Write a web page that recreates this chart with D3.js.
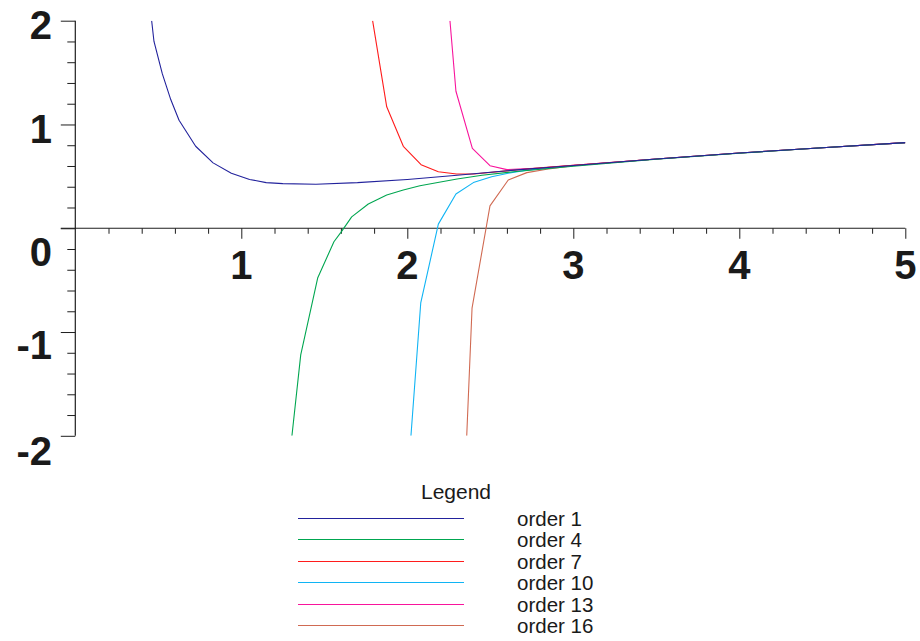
<!DOCTYPE html>
<html>
<head>
<meta charset="utf-8">
<script src="https://cdn.jsdelivr.net/npm/d3@7"></script>
<style>
  html, body { margin: 0; padding: 0; background: #fff; }
  svg { display: block; font-family: "Liberation Sans", Arial, Helvetica, sans-serif; }
</style>
</head>
<body>
<svg id="chart" width="920" height="641"></svg>
<script>
// Truncated series approximations, one curve per order
const seriesNames = ["order 1", "order 4", "order 7", "order 10", "order 13", "order 16"];
const seriesColors = ["#22229c", "#00a650", "#ff1c1c", "#10b4f4", "#f8149c", "#d06a52"];

const order1X = [0.46, 0.474, 0.524, 0.575, 0.625, 0.725, 0.83, 0.94, 1.05, 1.15, 1.25, 1.45, 1.70, 2.00, 2.30, 2.64, 3.00, 3.50, 4.00, 4.50, 5.00];
const order1Y = [2.00, 1.80, 1.49, 1.24, 1.04, 0.79, 0.63, 0.53, 0.47, 0.44, 0.43, 0.424, 0.44, 0.47, 0.51, 0.56, 0.605, 0.668, 0.725, 0.776, 0.825];

const order4X = [1.305, 1.358, 1.46, 1.558, 1.60, 1.665, 1.765, 1.876, 1.976, 2.076, 2.20, 2.30, 2.45, 2.64, 3.00, 3.50, 4.00, 4.50, 5.00];
const order4Y = [-2.00, -1.22, -0.48, -0.13, -0.04, 0.11, 0.234, 0.321, 0.369, 0.41, 0.445, 0.475, 0.51, 0.545, 0.598, 0.665, 0.723, 0.775, 0.824];

const order7X = [1.791, 1.876, 1.976, 2.083, 2.187, 2.297, 2.40, 2.60, 2.80, 3.00, 3.50, 4.00, 4.50, 5.00];
const order7Y = [2.00, 1.17, 0.79, 0.613, 0.545, 0.523, 0.523, 0.553, 0.582, 0.607, 0.668, 0.725, 0.776, 0.825];

const order10X = [2.022, 2.081, 2.187, 2.293, 2.398, 2.508, 2.608, 2.72, 2.85, 3.00, 3.50, 4.00, 4.50, 5.00];
const order10Y = [-2.00, -0.72, 0.04, 0.33, 0.44, 0.497, 0.53, 0.56, 0.582, 0.604, 0.668, 0.725, 0.776, 0.825];

const order13X = [2.257, 2.293, 2.392, 2.498, 2.60, 2.80, 3.00, 3.50, 4.00, 4.50, 5.00];
const order13Y = [2.00, 1.32, 0.77, 0.603, 0.565, 0.58, 0.606, 0.668, 0.725, 0.776, 0.825];

const order16X = [2.358, 2.39, 2.498, 2.608, 2.72, 2.84, 3.00, 3.50, 4.00, 4.50, 5.00];
const order16Y = [-2.00, -0.77, 0.215, 0.465, 0.536, 0.568, 0.603, 0.668, 0.725, 0.776, 0.825];

const xTickLabels = ["1", "2", "3", "4", "5"];
const yTickLabels = ["2", "1", "0", "-1", "-2"];
const legendTitle = "Legend";

const seriesX = [order1X, order4X, order7X, order10X, order13X, order16X];
const seriesY = [order1Y, order4Y, order7Y, order10Y, order13Y, order16Y];

const svg = d3.select("#chart");

const x = d3.scaleLinear().domain([0, 5]).range([75.3, 905.3]);
const y = d3.scaleLinear().domain([-2, 2]).range([435.8, 20.7]);

const axisColor = "#1e1e1e";

// Minor and major ticks on both axes
const xMinor = d3.range(1, 26).map(i => i * 0.2).filter(v => Math.abs(v - Math.round(v)) > 1e-6);
const xMajor = xTickLabels.map(Number);
const yMinor = d3.range(-10, 11).map(i => i * 0.2).filter(v => Math.abs(v - Math.round(v)) > 1e-6);
const yMajor = yTickLabels.map(Number);

function styleAxis(g) {
  g.select(".domain").remove();
  g.selectAll(".tick line").attr("stroke", axisColor).attr("stroke-width", 1);
  g.selectAll(".tick text").remove();
}

svg.append("g").attr("transform", `translate(0,${y(0)})`)
  .call(d3.axisBottom(x).tickValues(xMinor).tickSize(5.5).tickFormat(""))
  .call(styleAxis);
svg.append("g").attr("transform", `translate(0,${y(0)})`)
  .call(d3.axisBottom(x).tickValues(xMajor).tickSize(10.5).tickFormat(""))
  .call(styleAxis);

svg.append("g").attr("transform", `translate(${x(0)},0)`)
  .call(d3.axisLeft(y).tickValues(yMinor).tickSize(8).tickFormat(""))
  .call(styleAxis);
svg.append("g").attr("transform", `translate(${x(0)},0)`)
  .call(d3.axisLeft(y).tickValues(yMajor).tickSize(14.5).tickFormat(""))
  .call(styleAxis);

// Axis lines
svg.append("line")
  .attr("x1", x(0) - 14.5).attr("x2", x(5))
  .attr("y1", y(0)).attr("y2", y(0))
  .attr("stroke", axisColor).attr("stroke-width", 1.2);
svg.append("line")
  .attr("x1", x(0)).attr("x2", x(0))
  .attr("y1", y(2)).attr("y2", y(-2))
  .attr("stroke", axisColor).attr("stroke-width", 1.2);

// Tick labels
svg.append("g").selectAll("text")
  .data(xTickLabels)
  .join("text")
  .attr("x", d => x(+d))
  .attr("y", 278.5)
  .attr("text-anchor", "middle")
  .attr("font-size", 40)
  .attr("font-weight", "bold")
  .attr("fill", "#1a1a1a")
  .text(d => d);

const yLabelShift = { "2": 18.5, "1": 18.5, "0": 38, "-1": 27, "-2": 29 };
svg.append("g").selectAll("text")
  .data(yTickLabels)
  .join("text")
  .attr("x", 52)
  .attr("y", d => y(+d) + yLabelShift[d])
  .attr("text-anchor", "end")
  .attr("font-size", 40)
  .attr("font-weight", "bold")
  .attr("fill", "#1a1a1a")
  .text(d => d);

// Curves, clipped to the plotting window
svg.append("clipPath").attr("id", "plotClip")
  .append("rect")
  .attr("x", x(0)).attr("y", y(2))
  .attr("width", x(5) - x(0)).attr("height", y(-2) - y(2));

const line = d3.line().x(d => x(d[0])).y(d => y(d[1]));
const curves = seriesNames.map((name, i) => ({
  name,
  color: seriesColors[i],
  points: seriesX[i].map((v, j) => [v, seriesY[i][j]])
}));

svg.append("g").attr("clip-path", "url(#plotClip)")
  .selectAll("path")
  .data(curves.slice().reverse())
  .join("path")
  .attr("d", d => line(d.points))
  .attr("fill", "none")
  .attr("stroke", d => d.color)
  .attr("stroke-width", 1.1)
  .attr("stroke-linejoin", "round");

// Legend: rows snapped to pixel centres so the swatches stay crisp
svg.append("text")
  .attr("x", 456)
  .attr("y", 499)
  .attr("text-anchor", "middle")
  .attr("font-size", 21)
  .attr("fill", "#1a1a1a")
  .text(legendTitle);

const legend = svg.append("g").selectAll("g")
  .data(curves)
  .join("g")
  .attr("transform", (d, i) => `translate(0,${Math.round(518 + i * 21.4) + 0.5})`);

legend.append("line")
  .attr("x1", 298).attr("x2", 464)
  .attr("y1", 0).attr("y2", 0)
  .attr("stroke", d => d.color)
  .attr("stroke-width", 1);

legend.append("text")
  .attr("x", 517)
  .attr("y", 7.5)
  .attr("font-size", 20.5)
  .attr("fill", "#1a1a1a")
  .text(d => d.name);
</script>
</body>
</html>
